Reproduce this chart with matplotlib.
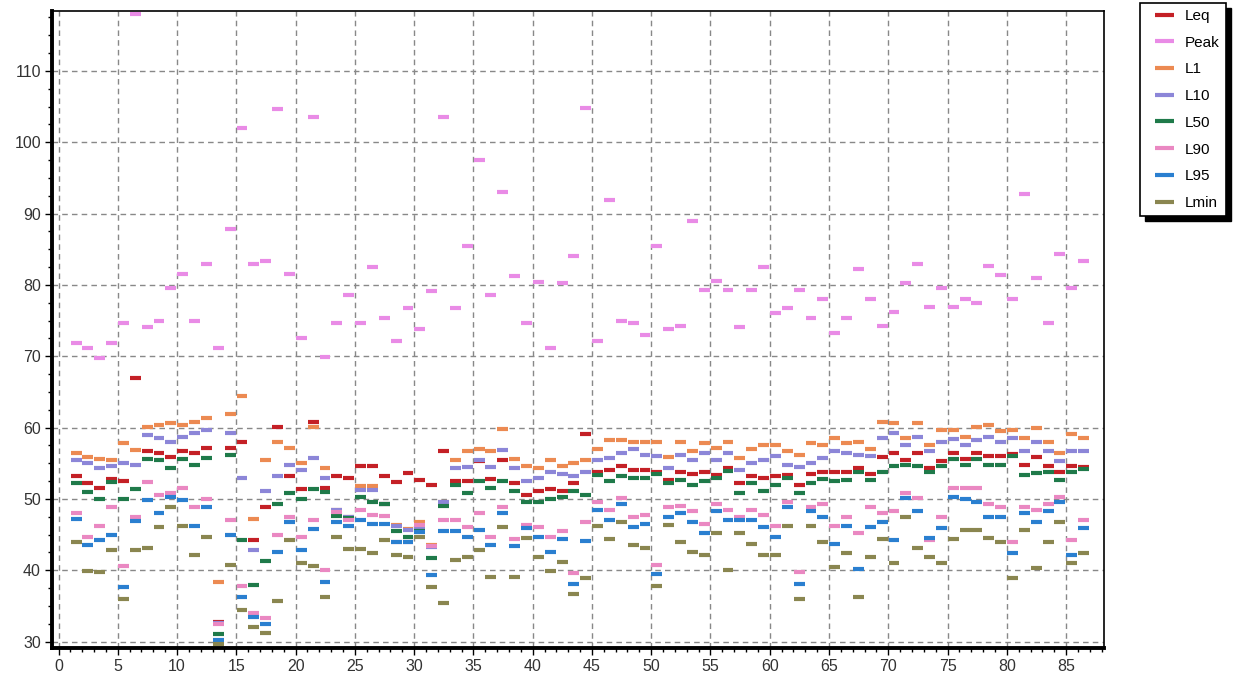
import matplotlib
matplotlib.use("Agg")
import matplotlib.pyplot as plt
from matplotlib.patches import Rectangle
from matplotlib.transforms import IdentityTransform
from matplotlib.ticker import MultipleLocator
from matplotlib.collections import LineCollection
from matplotlib.legend_handler import HandlerLineCollection
import numpy as np

plt.rcParams['font.family'] = ['Liberation Sans', 'DejaVu Sans']

# one value per interval, intervals 1..86
x = np.arange(1, 87)

leq = [53.2, 52.2, 51.6, 52.8, 52.5, 66.9, 56.7, 56.4, 55.9, 56.7,
       56.4, 57.2, 32.8, 57.2, 58.0, 44.2, 48.8, 60.1, 53.2, 51.4,
       60.8, 51.5, 53.2, 53.0, 54.6, 54.6, 53.2, 52.4, 53.7, 52.7,
       51.9, 56.7, 52.5, 52.5, 55.3, 52.8, 55.5, 52.2, 50.6, 51.1,
       51.4, 51.1, 52.2, 59.1, 53.8, 54.0, 54.6, 54.0, 54.0, 53.8,
       52.6, 53.8, 53.5, 53.8, 53.3, 54.3, 52.2, 53.2, 53.0, 53.2,
       53.3, 51.9, 53.5, 53.8, 53.8, 53.8, 54.3, 53.5, 55.9, 56.5,
       55.4, 56.5, 54.3, 55.3, 56.5, 55.6, 56.5, 56.0, 56.0, 56.3,
       54.8, 55.9, 54.6, 53.8, 54.6, 54.5]

peak = [71.8, 71.2, 69.7, 71.8, 74.6, 118.0, 74.1, 74.9, 79.6, 81.5,
        74.9, 83.0, 71.2, 87.8, 102.0, 83.0, 83.3, 104.6, 81.5, 72.5,
        103.5, 69.9, 74.6, 78.6, 74.6, 82.5, 75.4, 72.2, 76.7, 73.8,
        79.1, 103.5, 76.7, 85.4, 97.5, 78.6, 93.0, 81.2, 74.6, 80.4,
        71.2, 80.2, 84.1, 104.8, 72.2, 91.9, 74.9, 74.6, 73.0, 85.4,
        73.8, 74.3, 89.0, 79.3, 80.6, 79.3, 74.1, 79.3, 82.5, 76.0,
        76.7, 79.3, 75.4, 78.0, 73.3, 75.4, 82.2, 78.0, 74.3, 76.2,
        80.2, 83.0, 76.9, 79.6, 76.9, 78.0, 77.4, 82.7, 81.4, 78.0,
        92.7, 80.9, 74.6, 84.3, 79.6, 83.3]

l1 = [56.5, 55.9, 55.6, 55.4, 57.8, 56.9, 60.1, 60.4, 60.6, 60.4,
      60.8, 61.4, 38.3, 61.9, 64.4, 47.2, 55.4, 58.0, 57.2, 55.1,
      60.1, 54.3, 48.4, 47.5, 51.8, 51.8, 49.3, 46.3, 45.8, 46.8,
      43.5, 49.6, 55.4, 56.7, 57.0, 56.7, 59.8, 55.6, 54.6, 54.3,
      55.4, 54.6, 55.1, 55.4, 57.0, 58.2, 58.2, 58.0, 58.0, 58.0,
      55.9, 58.0, 56.7, 57.8, 57.2, 58.0, 55.8, 57.0, 57.5, 57.5,
      56.7, 56.2, 57.8, 57.6, 58.5, 57.8, 58.0, 57.0, 60.8, 60.6,
      58.5, 60.6, 57.5, 59.6, 59.6, 58.7, 60.1, 60.4, 59.5, 59.6,
      58.5, 60.0, 58.0, 56.4, 59.1, 58.5]

l10 = [55.4, 55.1, 54.3, 54.6, 55.1, 54.8, 59.0, 58.5, 58.0, 58.7,
       59.3, 59.6, 32.6, 59.3, 53.0, 42.9, 51.1, 53.2, 54.8, 54.0,
       55.8, 52.9, 48.4, 47.5, 51.2, 51.2, 49.3, 46.2, 45.7, 46.0,
       43.2, 49.6, 54.3, 54.5, 55.5, 54.5, 56.9, 54.3, 52.5, 53.0,
       53.8, 53.5, 53.2, 53.8, 55.4, 55.8, 56.5, 57.0, 56.2, 56.0,
       54.3, 56.2, 55.4, 56.4, 55.4, 56.5, 54.0, 55.1, 55.4, 56.0,
       54.8, 54.5, 55.1, 55.8, 56.7, 56.4, 56.2, 56.0, 58.5, 59.3,
       57.5, 58.7, 56.7, 58.0, 58.4, 57.5, 58.3, 58.7, 58.0, 58.5,
       56.7, 58.0, 56.7, 55.3, 56.7, 56.7]

l50 = [52.2, 50.9, 50.0, 52.4, 50.0, 51.4, 55.6, 55.4, 54.3, 55.6,
       54.8, 55.8, 31.0, 56.2, 44.2, 38.0, 41.3, 49.3, 50.8, 50.0,
       51.4, 51.0, 47.6, 47.3, 50.2, 49.6, 49.3, 45.5, 44.7, 45.5,
       41.7, 49.0, 52.0, 50.8, 52.5, 51.6, 52.5, 51.1, 49.6, 49.6,
       50.0, 50.3, 51.1, 50.6, 53.3, 52.5, 53.2, 53.0, 53.0, 53.5,
       52.2, 52.7, 51.9, 52.5, 53.0, 53.9, 50.8, 52.2, 51.1, 51.9,
       53.0, 50.8, 52.2, 52.8, 52.5, 52.7, 53.8, 52.7, 53.8, 54.6,
       54.8, 54.6, 53.8, 54.6, 55.6, 54.8, 55.6, 54.8, 54.8, 56.0,
       53.4, 53.6, 53.8, 52.7, 53.8, 54.2]

l90 = [48.0, 44.7, 46.2, 48.8, 40.6, 47.5, 52.4, 50.6, 50.8, 51.6,
       48.8, 50.0, 32.5, 47.0, 37.8, 34.0, 33.3, 45.0, 47.5, 44.7,
       47.0, 40.0, 48.2, 47.0, 48.4, 47.8, 47.6, 44.0, 44.0, 46.4,
       43.4, 47.0, 47.0, 46.0, 48.0, 44.7, 48.8, 44.4, 46.4, 46.0,
       44.7, 45.5, 39.6, 46.7, 49.6, 48.5, 50.1, 47.5, 47.7, 40.8,
       48.8, 49.0, 48.3, 46.5, 49.3, 48.5, 47.5, 48.5, 47.7, 46.2,
       49.6, 39.7, 48.8, 49.3, 46.2, 47.5, 45.2, 48.8, 48.0, 48.3,
       50.8, 50.1, 44.3, 47.5, 51.6, 51.6, 51.6, 49.3, 48.8, 44.0,
       48.8, 48.5, 49.3, 50.3, 44.3, 47.0]

l95 = [47.2, 43.5, 44.2, 45.0, 37.6, 46.9, 49.8, 48.0, 50.3, 49.8,
       46.2, 48.8, 30.2, 45.0, 36.3, 33.5, 32.5, 42.6, 46.7, 42.9,
       45.8, 38.3, 46.8, 46.2, 47.0, 46.5, 46.5, 43.9, 43.9, 45.3,
       39.4, 45.5, 45.5, 44.6, 45.7, 43.5, 48.0, 43.4, 45.9, 44.7,
       42.6, 44.4, 38.1, 44.1, 48.5, 47.0, 49.3, 46.0, 46.5, 39.5,
       47.5, 48.0, 46.7, 45.2, 48.3, 47.0, 47.0, 47.0, 46.0, 44.7,
       48.8, 38.1, 48.3, 47.5, 43.7, 46.2, 40.2, 46.0, 46.7, 44.2,
       50.1, 48.3, 44.5, 45.9, 50.3, 50.0, 49.6, 47.5, 47.5, 42.4,
       48.0, 46.7, 48.3, 49.6, 42.2, 45.9]

lmin = [44.0, 39.9, 39.7, 42.9, 35.9, 42.9, 43.1, 46.0, 48.8, 46.2,
        42.1, 44.7, 29.7, 40.7, 34.4, 32.0, 31.2, 35.7, 44.2, 41.0,
        40.6, 36.3, 44.7, 43.0, 43.0, 42.4, 44.2, 42.1, 41.9, 44.7,
        37.6, 35.4, 41.4, 41.9, 42.9, 39.0, 46.0, 39.0, 44.5, 41.9,
        39.9, 41.1, 36.7, 38.9, 46.2, 44.4, 46.7, 43.5, 43.1, 37.8,
        46.4, 43.9, 42.6, 42.1, 45.2, 40.1, 45.2, 43.7, 42.2, 42.2,
        46.2, 36.0, 46.2, 43.9, 40.4, 42.4, 36.3, 41.9, 44.4, 41.0,
        47.5, 43.1, 41.9, 41.0, 44.4, 45.7, 45.7, 44.5, 44.0, 38.9,
        45.7, 40.3, 43.9, 46.7, 41.0, 42.4]

series = [
    ("Leq", leq, "#c42026"),
    ("Peak", peak, "#e98be6"),
    ("L1", l1, "#ec8a52"),
    ("L10", l10, "#8c86d8"),
    ("L50", l50, "#1f7a4a"),
    ("L90", l90, "#ea88c2"),
    ("L95", l95, "#2a7fd0"),
    ("Lmin", lmin, "#8a8650"),
]

fig = plt.figure(figsize=(12.42, 6.88), dpi=100)
ax = fig.add_axes([52/1242, 40/688, (1104-52)/1242, (648-11)/688])

for name, vals, col in series:
    ax.hlines(vals, x + 0.02, x + 0.94, colors=col, lw=3, label=name,
              capstyle='butt')

ax.set_xlim(-0.55, 88.2)
ax.set_ylim(29.1, 118.4)
ax.xaxis.set_minor_locator(MultipleLocator(1))
ax.yaxis.set_minor_locator(MultipleLocator(2.5))
ax.set_yticks(range(30, 111, 10))
ax.set_xticks(range(0, 86, 5))
ax.grid(True, which='major', color='#888888', ls=(0, (4, 3)), lw=1)
ax.set_axisbelow(True)
ax.tick_params(which='major', length=5, width=1, labelsize=11.5,
               labelcolor='#333333', pad=3)
ax.tick_params(which='minor', length=3, width=1)

for side in ['left', 'bottom']:
    ax.spines[side].set_linewidth(2.8)
for side in ['top', 'right']:
    ax.spines[side].set_linewidth(1.2)

leg = fig.legend(loc='upper left', bbox_to_anchor=(1140/1242, 1 - 3/688),
                 frameon=True, fancybox=False, edgecolor='black',
                 framealpha=1, borderaxespad=0, handlelength=1.8,
                 handletextpad=0.75, labelspacing=0.83, fontsize=11,
                 borderpad=0.4,
                 handler_map={LineCollection: HandlerLineCollection(xpad=0.6)})
leg.get_frame().set_linewidth(1.2)

fig.canvas.draw()
bb = leg.get_window_extent()
shadow = Rectangle((bb.x0 + 5, bb.y0 - 5), bb.width, bb.height,
                   transform=IdentityTransform(), color='black',
                   zorder=leg.get_zorder() - 1)
fig.add_artist(shadow)

fig.savefig("out.png", dpi=100)
